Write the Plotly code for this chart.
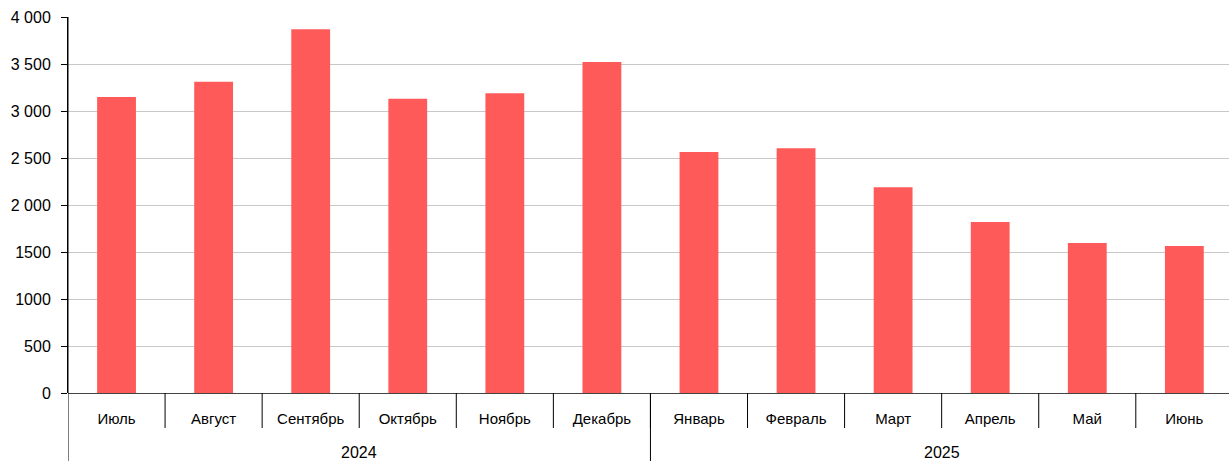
import plotly.graph_objects as go

months = ["Июль", "Август", "Сентябрь", "Октябрь", "Ноябрь", "Декабрь",
          "Январь", "Февраль", "Март", "Апрель", "Май", "Июнь"]
years = ["2024", "2025"]
year_counts = [6, 6]
values = [3150, 3310, 3870, 3130, 3190, 3520, 2565, 2605, 2190, 1820, 1595, 1565]
y_tickvals = [0, 500, 1000, 1500, 2000, 2500, 3000, 3500, 4000]
y_ticktext = ["0", "500", "1000", "1500", "2 000", "2 500", "3 000", "3 500", "4 000"]

W, H = 1229, 461
M_L, M_R, M_T, M_B = 68, 0, 17, 68
plot_h = H - M_T - M_B
FONT = "Liberation Sans"

x_idx = list(range(len(months)))

fig = go.Figure()
fig.add_trace(go.Bar(
    x=x_idx, y=values, width=0.4,
    marker=dict(color="#ff5a5a", line=dict(width=0)),
    hoverinfo="y",
))

shapes = []
def py(px):
    return -px / plot_h

# month dividers
for i in range(1, len(months)):
    shapes.append(dict(type="line", xref="x", yref="paper",
                       x0=i - 0.5, x1=i - 0.5, y0=0, y1=py(35),
                       line=dict(color="#000000", width=1)))
# year dividers (full height)
pos = 0
for c in year_counts[:-1]:
    pos += c
    shapes.append(dict(type="line", xref="x", yref="paper",
                       x0=pos - 0.5, x1=pos - 0.5, y0=0, y1=py(M_B),
                       line=dict(color="#000000", width=1)))
# left border extension
shapes.append(dict(type="line", xref="x", yref="paper",
                   x0=-0.5, x1=-0.5, y0=1, y1=py(M_B),
                   line=dict(color="#000000", width=1)))

annotations = []
start = 0
for yname, c in zip(years, year_counts):
    center = start + (c - 1) / 2
    annotations.append(dict(x=center, xref="x", y=py(59), yref="paper",
                            text=yname, showarrow=False, yanchor="middle",
                            font=dict(family=FONT, size=16, color="#000000")))
    start += c

fig.update_layout(
    width=W, height=H,
    margin=dict(l=M_L, r=M_R, t=M_T, b=M_B, pad=0),
    paper_bgcolor="white", plot_bgcolor="white",
    showlegend=False,
    font=dict(family=FONT, size=15, color="#000000"),
    shapes=shapes, annotations=annotations,
    xaxis=dict(
        tickmode="array", tickvals=x_idx, ticktext=months,
        range=[-0.5, len(months) - 0.54],
        showgrid=False, ticks="", showline=False, zeroline=False,
        tickfont=dict(family=FONT, size=15, color="#000000"),
        ticklabelstandoff=15,
    ),
    yaxis=dict(
        range=[0, 4000], tickvals=y_tickvals, ticktext=y_ticktext,
        showgrid=True, gridcolor="#c8c8c8", gridwidth=1,
        zeroline=True, zerolinecolor="#444444", zerolinewidth=1,
        showline=True, linecolor="#000000", linewidth=1,
        ticks="outside", ticklen=6, tickcolor="#000000",
        tickfont=dict(family=FONT, size=16, color="#000000"),
        ticklabelstandoff=7,
    ),
)

fig.write_html("out.html")
